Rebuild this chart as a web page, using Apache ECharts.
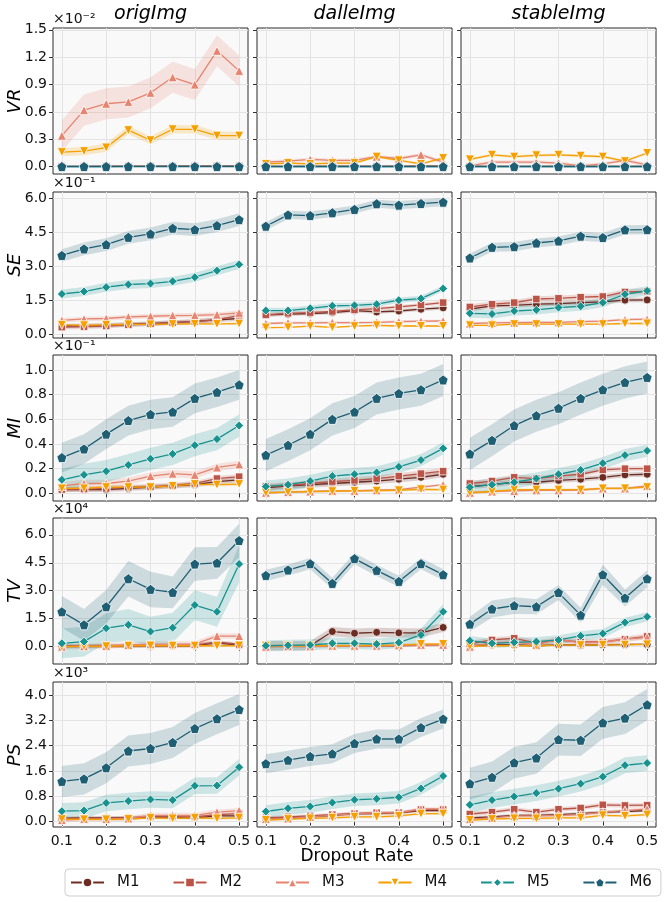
<!DOCTYPE html>
<html><head><meta charset="utf-8">
<script src="https://cdn.jsdelivr.net/npm/echarts@6/dist/echarts.min.js"></script>
<style>html,body{margin:0;padding:0;background:#fff}#c{width:664px;height:902px}</style>
</head><body><div id="c"></div>
<script>
// ---------------- DATA ----------------
const dropout = [0.1, 0.15, 0.2, 0.25, 0.3, 0.35, 0.4, 0.45, 0.5];
const xTicks = [0.1, 0.2, 0.3, 0.4, 0.5];
const modelNames = ['M1', 'M2', 'M3', 'M4', 'M5', 'M6'];
const imageTypes = ['origImg', 'dalleImg', 'stableImg'];
const metricNames = ['VR', 'SE', 'MI', 'TV', 'PS'];
const multiplierLabels = ['×10⁻²', '×10⁻¹', '×10⁻¹', '×10⁴', '×10³'];
const VR_ticks = [0, 0.3, 0.6, 0.9, 1.2, 1.5];
const SE_ticks = [0, 1.5, 3.0, 4.5, 6.0];
const MI_ticks = [0, 0.2, 0.4, 0.6, 0.8, 1.0];
const TV_ticks = [0, 1.5, 3.0, 4.5, 6.0];
const PS_ticks = [0, 0.8, 1.6, 2.4, 3.2, 4.0];

// Means per panel: rows M1..M6 (values in units of the multiplier)
const VR_orig = [
  [0.003,0.003,0.004,0.004,0.004,0.005,0.005,0.005,0.006],
  [0.004,0.004,0.005,0.005,0.006,0.006,0.006,0.007,0.007],
  [0.34,0.62,0.69,0.71,0.81,0.98,0.90,1.27,1.05],
  [0.16,0.17,0.21,0.40,0.29,0.41,0.41,0.34,0.34],
  [0.002,0.002,0.002,0.003,0.003,0.003,0.003,0.003,0.003],
  [0.001,0.001,0.001,0.001,0.001,0.001,0.001,0.001,0.001]];
const VR_orig_err = [0.005,0.005,0.17,0.045,0.004,0.003];
const VR_dalle = [
  [0.003,0.003,0.003,0.004,0.004,0.004,0.004,0.005,0.005],
  [0.004,0.004,0.004,0.005,0.005,0.005,0.006,0.006,0.006],
  [0.05,0.06,0.08,0.07,0.07,0.11,0.09,0.13,0.05],
  [0.03,0.04,0.03,0.04,0.04,0.11,0.07,0.03,0.095],
  [0.002,0.002,0.002,0.002,0.002,0.002,0.002,0.002,0.002],
  [0.001,0.001,0.001,0.001,0.001,0.001,0.001,0.001,0.001]];
const VR_dalle_err = [0.004,0.004,0.02,0.015,0.003,0.002];
const VR_stable = [
  [0.003,0.003,0.003,0.003,0.003,0.003,0.003,0.003,0.003],
  [0.004,0.004,0.004,0.004,0.004,0.004,0.004,0.004,0.004],
  [0.01,0.05,0.05,0.05,0.04,0.01,0.03,0.07,0.02],
  [0.08,0.13,0.11,0.125,0.13,0.12,0.11,0.06,0.15],
  [0.002,0.002,0.002,0.002,0.002,0.002,0.002,0.002,0.002],
  [0.001,0.001,0.001,0.001,0.001,0.001,0.001,0.001,0.001]];
const VR_stable_err = [0.004,0.004,0.02,0.015,0.003,0.002];

const SE_orig = [
  [0.35,0.36,0.38,0.42,0.45,0.50,0.55,0.62,0.68],
  [0.30,0.32,0.35,0.40,0.45,0.50,0.55,0.62,0.82],
  [0.60,0.66,0.68,0.75,0.78,0.81,0.82,0.85,0.93],
  [0.40,0.38,0.40,0.42,0.42,0.43,0.44,0.44,0.45],
  [1.76,1.87,2.06,2.18,2.22,2.32,2.50,2.79,3.06],
  [3.46,3.75,3.94,4.26,4.41,4.66,4.60,4.78,5.04]];
const SE_orig_err = [0.1,0.1,0.1,0.05,0.2,0.28];
const SE_dalle = [
  [0.84,0.87,0.90,0.94,1.03,0.97,1.01,1.09,1.15],
  [0.84,0.91,0.94,0.99,1.06,1.12,1.19,1.28,1.38],
  [0.46,0.49,0.49,0.50,0.50,0.51,0.54,0.56,0.57],
  [0.28,0.29,0.34,0.29,0.34,0.38,0.35,0.35,0.35],
  [1.03,1.03,1.13,1.24,1.26,1.31,1.49,1.56,2.00],
  [4.75,5.25,5.22,5.34,5.49,5.74,5.68,5.75,5.81]];
const SE_dalle_err = [0.08,0.08,0.06,0.04,0.12,0.18];
const SE_stable = [
  [1.09,1.24,1.26,1.31,1.34,1.38,1.41,1.49,1.50],
  [1.19,1.31,1.38,1.54,1.57,1.62,1.65,1.85,1.88],
  [0.46,0.49,0.50,0.51,0.51,0.54,0.56,0.63,0.65],
  [0.38,0.38,0.43,0.43,0.43,0.43,0.43,0.46,0.46],
  [0.91,0.88,1.01,1.06,1.16,1.22,1.38,1.75,1.90],
  [3.35,3.82,3.85,4.01,4.10,4.31,4.25,4.59,4.60]];
const SE_stable_err = [0.1,0.12,0.06,0.04,0.2,0.2];

const MI_orig = [
  [0.03,0.03,0.03,0.04,0.05,0.06,0.07,0.095,0.11],
  [0.03,0.035,0.04,0.05,0.055,0.065,0.08,0.12,0.135],
  [0.06,0.08,0.08,0.10,0.14,0.16,0.15,0.21,0.235],
  [0.04,0.04,0.05,0.05,0.05,0.06,0.075,0.07,0.075],
  [0.11,0.15,0.18,0.23,0.28,0.32,0.39,0.44,0.55],
  [0.29,0.36,0.48,0.59,0.64,0.66,0.77,0.82,0.88]];
const MI_orig_err = [0.02,0.02,0.03,0.015,0.09,0.12];
const MI_dalle = [
  [0.045,0.06,0.07,0.08,0.09,0.10,0.115,0.13,0.155],
  [0.055,0.065,0.08,0.095,0.105,0.12,0.14,0.16,0.18],
  [0.005,0.01,0.015,0.02,0.02,0.025,0.03,0.05,0.07],
  [0.005,0.01,0.015,0.017,0.02,0.022,0.025,0.033,0.03],
  [0.055,0.07,0.10,0.14,0.155,0.17,0.215,0.27,0.365],
  [0.31,0.39,0.48,0.60,0.66,0.77,0.81,0.84,0.92]];
const MI_dalle_err = [0.025,0.025,0.01,0.01,0.05,0.13];
const MI_stable = [
  [0.055,0.07,0.09,0.09,0.105,0.115,0.13,0.15,0.155],
  [0.08,0.10,0.13,0.12,0.14,0.155,0.19,0.20,0.20],
  [0.005,0.015,0.02,0.025,0.025,0.027,0.04,0.04,0.06],
  [0.005,0.015,0.03,0.03,0.03,0.03,0.04,0.04,0.05],
  [0.05,0.07,0.09,0.12,0.155,0.19,0.245,0.31,0.345],
  [0.32,0.43,0.55,0.63,0.69,0.77,0.84,0.90,0.94]];
const MI_stable_err = [0.02,0.02,0.01,0.01,0.05,0.13];

const TV_orig = [
  [0.02,0.02,0.03,0.04,0.04,0.05,0.05,0.20,0.08],
  [0.03,0.03,0.04,0.05,0.06,0.06,0.08,0.25,0.12],
  [0.00,0.02,0.04,0.09,0.14,0.14,0.14,0.57,0.57],
  [0.00,0.03,0.02,0.05,0.06,0.05,0.05,0.05,0.06],
  [0.18,0.27,0.99,1.17,0.81,1.02,2.23,1.87,4.43],
  [1.87,1.17,2.14,3.64,3.07,2.91,4.43,4.49,5.69]];
const TV_orig_err = [0.1,0.1,0.15,0.08,
  [0.8,0.8,0.8,0.85,0.8,0.8,0.8,0.8,1.0],
  [0.85,0.85,0.9,0.95,0.95,0.85,0.9,0.85,0.9]];
const TV_dalle = [
  [0.05,0.05,0.05,0.81,0.72,0.77,0.74,0.74,1.03],
  [0.02,0.02,0.02,0.05,0.05,0.05,0.05,0.08,0.10],
  [0.00,0.02,0.02,0.05,0.05,0.05,0.07,0.10,0.10],
  [0.05,0.05,0.05,0.06,0.06,0.07,0.08,0.14,0.14],
  [0.05,0.07,0.09,0.18,0.18,0.14,0.22,0.63,1.87],
  [3.82,4.11,4.45,3.39,4.72,4.09,3.50,4.45,3.86]];
const TV_dalle_err = [0.25,0.08,0.08,0.06,[0.3,0.3,0.3,0.3,0.3,0.3,0.3,0.35,0.4],0.3];
const TV_stable = [
  [0.05,0.10,0.10,0.05,0.10,0.08,0.10,0.12,0.12],
  [0.15,0.36,0.45,0.20,0.35,0.25,0.25,0.40,0.55],
  [0.00,0.20,0.25,0.10,0.40,0.20,0.25,0.40,0.50],
  [0.02,0.05,0.05,0.05,0.08,0.08,0.10,0.10,0.12],
  [0.32,0.18,0.23,0.27,0.36,0.58,0.70,1.30,1.60],
  [1.21,2.02,2.20,2.14,2.90,1.69,3.86,2.61,3.64]];
const TV_stable_err = [0.05,0.15,0.1,0.05,0.25,[0.4,0.45,0.45,0.4,0.4,0.4,0.55,0.45,0.45]];

const PS_orig = [
  [0.10,0.12,0.12,0.12,0.15,0.14,0.12,0.18,0.18],
  [0.10,0.10,0.10,0.12,0.15,0.15,0.15,0.22,0.25],
  [0.05,0.08,0.08,0.10,0.20,0.20,0.20,0.30,0.35],
  [0.08,0.07,0.07,0.08,0.12,0.10,0.12,0.10,0.12],
  [0.33,0.35,0.59,0.65,0.70,0.68,1.13,1.14,1.72],
  [1.27,1.35,1.70,2.23,2.31,2.50,2.94,3.25,3.54]];
const PS_orig_err = [0.05,0.05,0.08,0.04,0.26,0.49];
const PS_dalle = [
  [0.10,0.12,0.15,0.20,0.25,0.25,0.28,0.35,0.35],
  [0.12,0.15,0.18,0.22,0.25,0.28,0.28,0.38,0.38],
  [0.08,0.10,0.15,0.20,0.25,0.28,0.28,0.40,0.40],
  [0.05,0.08,0.10,0.12,0.15,0.15,0.18,0.25,0.25],
  [0.32,0.42,0.48,0.60,0.69,0.72,0.77,1.05,1.44],
  [1.83,1.94,2.06,2.14,2.47,2.61,2.61,2.97,3.24]];
const PS_dalle_err = [0.05,0.05,0.05,0.04,0.2,0.3];
const PS_stable = [
  [0.12,0.15,0.20,0.20,0.22,0.25,0.30,0.32,0.35],
  [0.24,0.30,0.39,0.30,0.39,0.43,0.53,0.51,0.52],
  [0.08,0.12,0.18,0.18,0.20,0.22,0.30,0.35,0.40],
  [0.05,0.08,0.10,0.10,0.12,0.12,0.20,0.18,0.22],
  [0.53,0.68,0.79,0.90,1.04,1.20,1.42,1.78,1.85],
  [1.20,1.40,1.86,2.01,2.59,2.57,3.12,3.27,3.69]];
const PS_stable_err = [0.05,0.07,0.05,0.04,0.25,0.5];

const panelMeans = [
  [VR_orig, VR_dalle, VR_stable],
  [SE_orig, SE_dalle, SE_stable],
  [MI_orig, MI_dalle, MI_stable],
  [TV_orig, TV_dalle, TV_stable],
  [PS_orig, PS_dalle, PS_stable]];
const panelErrs = [
  [VR_orig_err, VR_dalle_err, VR_stable_err],
  [SE_orig_err, SE_dalle_err, SE_stable_err],
  [MI_orig_err, MI_dalle_err, MI_stable_err],
  [TV_orig_err, TV_dalle_err, TV_stable_err],
  [PS_orig_err, PS_dalle_err, PS_stable_err]];
const rowTicks = [VR_ticks, SE_ticks, MI_ticks, TV_ticks, PS_ticks];

// ---------------- STYLE / LAYOUT ----------------
const colors = ['#6b2c22', '#bb5447', '#e5846f', '#f59f00', '#17928f', '#1f5f74'];
const PENTA = 'path://M0,-1L0.951,-0.309L0.588,0.809L-0.588,0.809L-0.951,-0.309Z';
const INVTRI = 'path://M0,0L2,0L1,1.75Z';
const symbols = ['circle', 'rect', 'triangle', INVTRI, 'diamond', PENTA];
const symbolSizes = [8, 7.5, 9, 9, 9, 10];
const colLeft = [53, 257, 461];
const colWidth = 195;
const rowTop = [28, 192, 355, 518, 682];
const rowHeight = 146;
const yMin = [-0.08, -0.18, -0.062, -0.93, -0.17];
const yMax = [1.52, 6.26, 1.122, 6.9, 4.41];
const FONT = 'DejaVu Sans';

function hexA(hex, a) {
  const n = parseInt(hex.slice(1), 16);
  return `rgba(${(n >> 16) & 255},${(n >> 8) & 255},${n & 255},${a})`;
}

function bandRenderer(lo, hi, fill) {
  return function (params, api) {
    if (params.dataIndex !== 0) return null;
    const pts = [];
    for (let i = 0; i < dropout.length; i++) pts.push(api.coord([dropout[i], hi[i]]));
    for (let i = dropout.length - 1; i >= 0; i--) pts.push(api.coord([dropout[i], lo[i]]));
    const cs = params.coordSys;
    return {
      type: 'polygon', shape: { points: pts }, style: { fill: fill, stroke: null },
      clipPath: { type: 'rect', shape: { x: cs.x, y: cs.y, width: cs.width, height: cs.height } },
      silent: true
    };
  };
}

const grids = [], xAxes = [], yAxes = [], series = [];
let p = 0;
for (let r = 0; r < 5; r++) {
  for (let c = 0; c < 3; c++) {
    grids.push({
      left: colLeft[c], top: rowTop[r], width: colWidth, height: rowHeight - (r === 4 ? 1 : 0),
      show: true, backgroundColor: '#f9f9f9', borderColor: '#2a2a2a', borderWidth: 1
    });
    xAxes.push({
      type: 'value', gridIndex: p, min: 0.08, max: 0.52,
      axisLine: { show: false },
      axisTick: { show: true, length: 4, customValues: xTicks, lineStyle: { color: '#333' } },
      axisLabel: { show: r === 4, customValues: xTicks, margin: 7, fontSize: 14, color: '#111', fontFamily: FONT,
        formatter: v => v.toFixed(1) },
      splitLine: { show: true, lineStyle: { color: '#e3e3e3', width: 1 } }
    });
    yAxes.push({
      type: 'value', gridIndex: p, min: yMin[r], max: yMax[r],
      axisLine: { show: false },
      axisTick: { show: true, length: 4, customValues: rowTicks[r], lineStyle: { color: '#333' } },
      axisLabel: { show: c === 0, customValues: rowTicks[r], margin: 6, fontSize: 14, color: '#111', fontFamily: FONT,
        formatter: v => v.toFixed(1) },
      splitLine: { show: true, lineStyle: { color: '#e3e3e3', width: 1 } }
    });
    const means = panelMeans[r][c];
    const errs = panelErrs[r][c];
    for (let m = 0; m < 6; m++) {
      const mean = means[m];
      const e = errs[m];
      const err = Array.isArray(e) ? e : dropout.map(() => e);
      const lo = mean.map((v, i) => v - err[i]);
      const hi = mean.map((v, i) => v + err[i]);
      series.push({
        type: 'custom', name: 'band_' + p + '_' + m, xAxisIndex: p, yAxisIndex: p,
        data: dropout.map((x, i) => [x, lo[i], hi[i]]),
        encode: { x: 0, y: [1, 2] },
        renderItem: bandRenderer(lo, hi, hexA(colors[m], 0.2)),
        silent: true, animation: false
      });
      series.push({
        type: 'line', name: modelNames[m], xAxisIndex: p, yAxisIndex: p,
        data: dropout.map((x, i) => [x, mean[i]]),
        symbol: symbols[m], symbolSize: symbolSizes[m], showAllSymbol: true,
        itemStyle: { color: colors[m], borderColor: '#fff', borderWidth: 0.8 },
        lineStyle: { color: colors[m], width: 1.3 },
        animation: false
      });
    }
    p++;
  }
}

const graphics = [];
imageTypes.forEach((t, c) => graphics.push({
  type: 'text', x: colLeft[c] + colWidth / 2, y: 14,
  style: { text: t, fontSize: 19, fontStyle: 'italic', fontFamily: FONT, fill: '#000', align: 'center', verticalAlign: 'middle' }
}));
metricNames.forEach((t, r) => {
  graphics.push({
    type: 'text', x: 15, y: rowTop[r] + rowHeight / 2, rotation: Math.PI / 2,
    style: { text: t, fontSize: 18, fontStyle: 'italic', fontFamily: FONT, fill: '#000', align: 'center', verticalAlign: 'middle' }
  });
  graphics.push({
    type: 'text', x: 53, y: rowTop[r] - 9,
    style: { text: multiplierLabels[r], fontSize: 14, fontFamily: FONT, fill: '#111', align: 'left', verticalAlign: 'middle' }
  });
});
graphics.push({
  type: 'text', x: 357, y: 857,
  style: { text: 'Dropout Rate', fontSize: 17, fontFamily: FONT, fill: '#000', align: 'center', verticalAlign: 'middle' }
});

const chart = echarts.init(document.getElementById('c'), null, { renderer: 'canvas' });
chart.setOption({
  animation: false,
  backgroundColor: '#fff',
  textStyle: { fontFamily: FONT },
  grid: grids, xAxis: xAxes, yAxis: yAxes, series: series,
  graphic: graphics,
  legend: {
    data: modelNames, left: 65, top: 869, orient: 'horizontal',
    itemWidth: 33, itemHeight: 12, itemGap: 33,
    padding: [6, 9, 6, 5], borderColor: '#cfcfcf', borderWidth: 1, borderRadius: 4,
    backgroundColor: '#fff',
    textStyle: { fontSize: 15, color: '#111', fontFamily: FONT, padding: [0, 0, 0, 8] }
  }
});
</script></body></html>
